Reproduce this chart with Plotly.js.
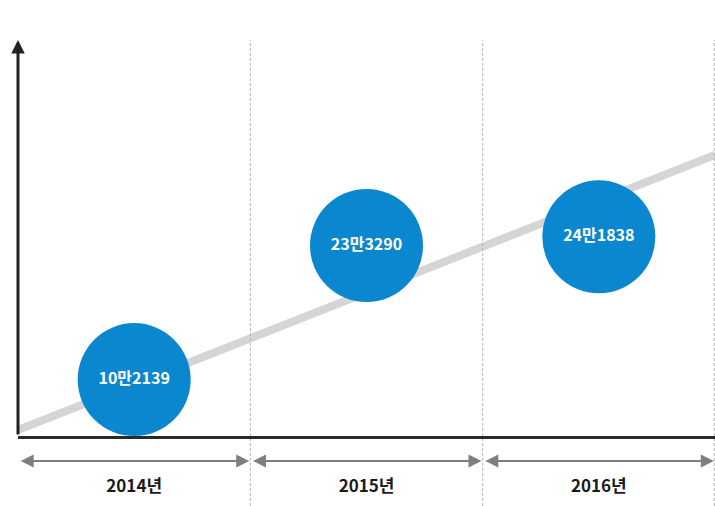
<!DOCTYPE html>
<html>
<head>
<meta charset="utf-8">
<script src="https://cdn.plot.ly/plotly-3.0.1.min.js"></script>
<style>html,body{margin:0;padding:0;background:#fff;}#chart{width:715px;height:506px;}</style>
</head>
<body>
<div id="chart"></div>
<script>
// Data
var years = ['2014', '2015', '2016'];
var yearLabels = ['2014년', '2015년', '2016년'];
var visitors = [102139, 233290, 241838];

function koreanNumber(v) {
  return Math.floor(v / 10000) + '만' + (v % 10000);
}
var bubbleText = visitors.map(koreanNumber);

var FONT = '"Noto Sans CJK KR", "Noto Sans", sans-serif';
var BLUE = '#0b87cf';

var trace = {
  type: 'scatter',
  mode: 'markers+text',
  x: years,
  y: visitors,
  text: bubbleText,
  textposition: 'middle center',
  textfont: {family: FONT, size: 16, color: '#ffffff', weight: 'bold'},
  marker: {size: 113, color: BLUE, line: {width: 0}, opacity: 1},
  cliponaxis: false,
  hoverinfo: 'skip',
  showlegend: false
};

var plotH = 396; // plot area height in px
var belowAxis = 70;

var shapes = [
  // decorative rising trend band
  {type: 'line', xref: 'paper', yref: 'paper', x0: 0, y0: 6 / plotH, x1: 1, y1: 281 / plotH,
   line: {color: '#d5d5d5', width: 8}, layer: 'below'}
];
// dashed segment dividers
[0.5, 1.5, 2.497].forEach(function (xv) {
  shapes.push({type: 'line', xref: 'x', yref: 'paper', x0: xv, x1: xv, y0: -belowAxis / plotH, y1: 1,
    line: {color: '#b5b5b5', width: 1, dash: '3px,2px'}, layer: 'below'});
});

var annotations = [];
// y axis arrow
annotations.push({
  xref: 'paper', yref: 'paper', x: 0, y: 1, axref: 'pixel', ayref: 'pixel', ax: 0, ay: plotH,
  text: '', showarrow: true, arrowhead: 2, arrowsize: 0.9, arrowwidth: 3, arrowcolor: '#222222', standoff: 0
});
// double-headed span arrows under each year
for (var i = 0; i < years.length; i++) {
  annotations.push({
    xref: 'x', yref: 'paper', x: i + 0.495, y: -25 / plotH,
    axref: 'x', ayref: 'pixel', ax: i - 0.495, ay: 0,
    text: '', showarrow: true, arrowhead: 2, startarrowhead: 2, arrowside: 'end+start',
    arrowsize: 1.3, startarrowsize: 1.3, arrowwidth: 2, arrowcolor: '#7f7f7f', standoff: 0, startstandoff: 0
  });
}

var layout = {
  width: 715,
  height: 506,
  margin: {l: 18, r: 0, t: 40, b: belowAxis, pad: 0},
  paper_bgcolor: '#ffffff',
  plot_bgcolor: '#ffffff',
  font: {family: FONT},
  xaxis: {
    type: 'category',
    range: [-0.5, 2.5],
    tickmode: 'array',
    tickvals: years,
    ticktext: yearLabels,
    tickfont: {family: FONT, size: 17, color: '#1a1a1a', weight: 'bold'},
    ticks: '',
    ticklabelstandoff: 33,
    showgrid: false,
    zeroline: false,
    showline: true,
    linecolor: '#2a2a2a',
    linewidth: 3,
    fixedrange: true
  },
  yaxis: {
    range: [46922, 434472],
    showticklabels: false,
    ticks: '',
    showgrid: false,
    zeroline: false,
    showline: false,
    fixedrange: true
  },
  shapes: shapes,
  annotations: annotations,
  showlegend: false
};

Plotly.newPlot('chart', [trace], layout, {displayModeBar: false, staticPlot: true});
</script>
</body>
</html>
